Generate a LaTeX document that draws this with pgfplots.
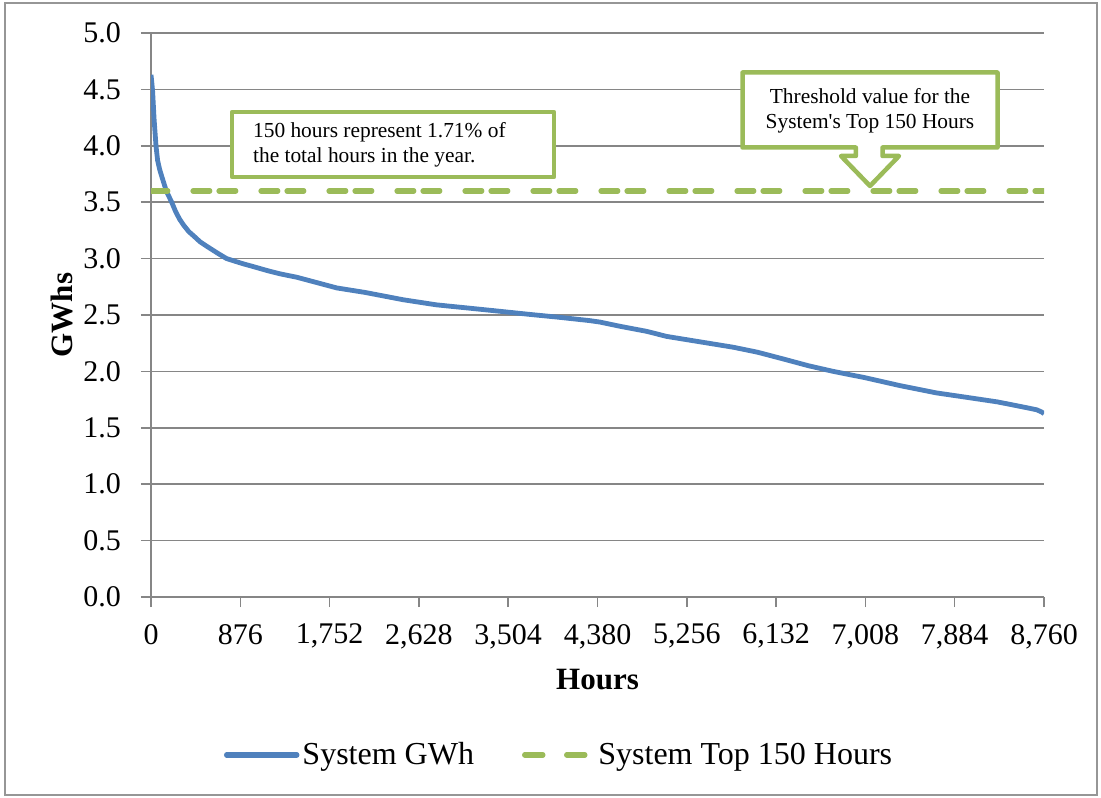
\documentclass[border=0pt]{standalone}
\usepackage{fontspec}
\setmainfont{Liberation Serif}
\usepackage{pgfplots}
\pgfplotsset{compat=1.18}
\definecolor{gridgray}{RGB}{134,134,134}
\definecolor{framegray}{RGB}{150,150,150}
\definecolor{lineblue}{RGB}{79,129,189}
\definecolor{linegreen}{RGB}{155,187,89}
\begin{document}
\begin{tikzpicture}
\useasboundingbox (-75.5pt,-100pt) rectangle (475pt,298.5pt);
\draw[framegray, line width=0.75pt] (-73pt,-99pt) rectangle (473pt,297pt);
\begin{axis}[
  at={(0pt,0pt)}, anchor=south west,
  scale only axis, width=446.5pt, height=282pt,
  xmin=0, xmax=8760, ymin=0, ymax=5,
  xtick={0,876,1752,2628,3504,4380,5256,6132,7008,7884,8760},
  ytick={0,0.5,1,1.5,2,2.5,3,3.5,4,4.5,5},
  axis x line*=bottom, axis y line*=left,
  axis line style={gridgray, line width=0.75pt, -},
  tick style={gridgray, line width=0.75pt},
  major tick length=5pt,
  tick align=outside,
  ymajorgrids,
  grid style={gridgray, line width=0.75pt},
  /pgf/number format/assume math mode=true,
  xticklabel style={font=\fontsize{15}{17}\selectfont, yshift=-5pt, /pgf/number format/.cd, 1000 sep={,}},
  yticklabel style={font=\fontsize{15}{17}\selectfont, xshift=-6.5pt, /pgf/number format/.cd, fixed, fixed zerofill, precision=1},
  xlabel={\textbf{Hours}},
  ylabel={\textbf{GWhs}},
  xlabel style={font=\fontsize{15.5}{17}\selectfont, at={(axis description cs:0.5,-0.147)}, anchor=center},
  ylabel style={font=\fontsize{15.5}{17}\selectfont, at={(axis description cs:-0.1,0.5)}, anchor=center, rotate=0},
  legend columns=2,
  legend style={at={(axis description cs:0.4575,-0.28)}, anchor=center, draw=none, fill=none,
    font=\fontsize{16}{18}\selectfont,
    /tikz/every even column/.append style={column sep=22.5pt},
    nodes={inner sep=1.5pt}},
]
\addplot[lineblue, line width=2.4pt, line join=round,
  legend image code/.code={\draw[lineblue, line width=2.75pt, line cap=round] (0pt,0pt) -- (35pt,0pt);}]
coordinates {
(0,4.63) (8,4.56) (16,4.48) (30,4.24) (49,4.00) (65,3.87) (85,3.79) (105,3.73) (150,3.60)
(203,3.50) (240,3.42) (280,3.35) (317,3.30) (370,3.24) (420,3.20) (480,3.15) (546,3.11) (650,3.05) (742,3.00) (900,2.955)
(1000,2.93) (1135,2.895) (1265,2.865) (1429,2.835) (1822,2.74) (2100,2.70) (2475,2.635)
(2800,2.59) (3129,2.56) (3400,2.535) (3718,2.505) (4000,2.48) (4306,2.45) (4405,2.437)
(4600,2.40) (4863,2.355) (5059,2.31) (5400,2.26) (5713,2.214) (5950,2.17) (6203,2.11)
(6450,2.05) (6693,2.00) (7000,1.945) (7347,1.874) (7700,1.81) (8002,1.77) (8300,1.73)
(8492,1.696) (8688,1.66) (8737,1.64) (8760,1.625)
};
\addlegendentry{System GWh}
\addplot[linegreen, line width=2.6pt, line cap=round, dash pattern=on 8.4pt off 12.6pt on 8.4pt off 4.6pt,
  legend image code/.code={\draw[linegreen, line width=2.75pt, line cap=round, dash pattern=on 9pt off 12pt] (0pt,0pt) -- (30pt,0pt); \path (34pt,0pt);}]
coordinates {(0,3.6) (8760,3.6)};
\addlegendentry{System Top 150 Hours}
\end{axis}
% callout 1
\draw[linegreen, line width=2.25pt, fill=white, line join=round] (40.5pt,242.5pt) rectangle (201.5pt,210pt);
\node[anchor=west, align=left, inner sep=0pt, font=\fontsize{10.7}{12.5}\selectfont] at (50.85pt,226pt)
  {150 hours represent 1.71\% of\\the total hours in the year.};
% callout 2
\draw[linegreen, line width=2.25pt, fill=white, line join=round]
  (295.75pt,262.25pt) -- (423.25pt,262.25pt) -- (423.25pt,224.75pt) -- (365.75pt,224.75pt)
  -- (365.75pt,220.5pt) -- (374pt,220.5pt) -- (359.5pt,205.5pt) -- (345pt,220.5pt)
  -- (352.4pt,220.5pt) -- (352.4pt,224.75pt) -- (295.75pt,224.75pt) -- cycle;
\node[align=center, inner sep=0pt, font=\fontsize{10.7}{12.5}\selectfont] at (359.5pt,243pt)
  {Threshold value for the\\System\textquotesingle s Top 150 Hours};
\end{tikzpicture}
\end{document}
